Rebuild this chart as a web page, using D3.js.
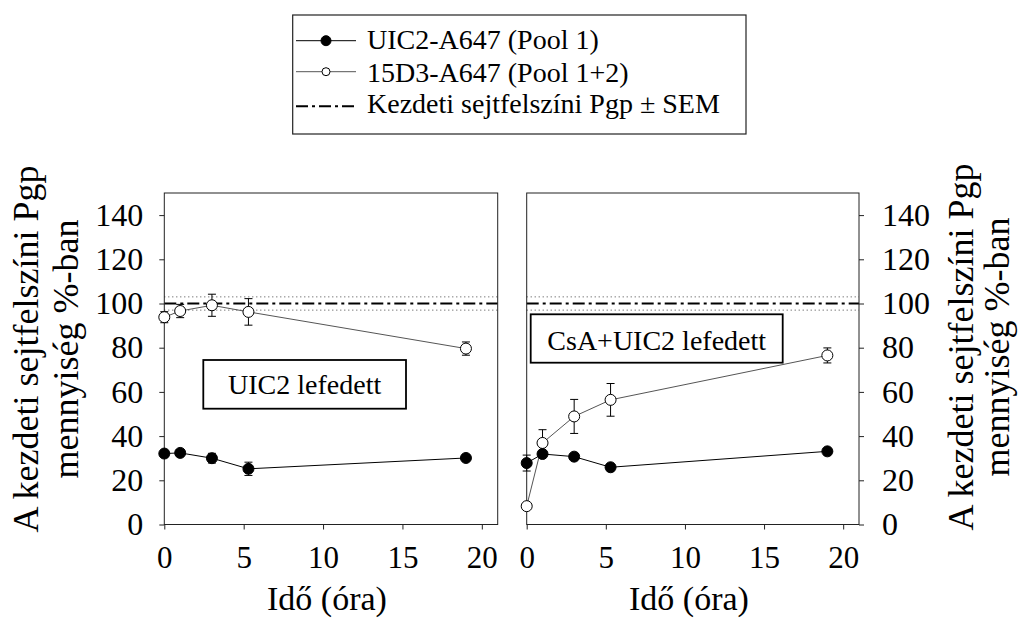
<!DOCTYPE html>
<html>
<head>
<meta charset="utf-8">
<script src="https://cdn.jsdelivr.net/npm/d3@7"></script>
<style>
  html, body { margin: 0; padding: 0; background: #fff; }
  svg { display: block; }
</style>
</head>
<body>
<svg id="chart" width="1019" height="630"></svg>
<script>
// ---- data ----
const times = [0, 1, 3, 5.3, 19];
const xTicks = [0, 5, 10, 15, 20];
const yTicks = [0, 20, 40, 60, 80, 100, 120, 140];

const uicPanel_UIC2 = [32.1, 32.4, 30.0, 25.2, 30.1];
const uicPanel_UIC2_err = [1.5, 1.5, 2.2, 3.0, 1.2];
const uicPanel_15D3 = [93.8, 96.6, 99.2, 96.2, 79.6];
const uicPanel_15D3_err = [2.5, 3.0, 5.0, 6.0, 3.0];

const csaPanel_UIC2 = [27.8, 31.9, 30.7, 25.9, 33.1];
const csaPanel_UIC2_err = [3.6, 1.2, 1.2, 1.0, 1.2];
const csaPanel_15D3 = [8.3, 36.9, 48.9, 56.4, 76.5];
const csaPanel_15D3_err = [1.0, 6.0, 7.7, 7.4, 3.4];

const baselineValue = 100;
const baselineSEM = 3;

const panelLabels = ["UIC2 lefedett", "CsA+UIC2 lefedett"];
const legendLabels = ["UIC2-A647 (Pool 1)", "15D3-A647 (Pool 1+2)", "Kezdeti sejtfelszíni Pgp \u00B1 SEM"];
const xTitle = "Idő (óra)";
const yTitleLines = ["A kezdeti sejtfelszíni Pgp", "mennyiség %-ban"];

const FONT = "'Liberation Serif', 'Times New Roman', Tinos, 'DejaVu Serif', serif";

// ---- layout ----
const svg = d3.select("#chart");
const plotTop = 193, plotBottom = 524.5;
const y = d3.scaleLinear().domain([0, 150]).range([plotBottom, plotTop]);

const panels = [
  { x0: 164.3, x1: 497.7, side: "left", filled: uicPanel_UIC2, filledErr: uicPanel_UIC2_err,
    open: uicPanel_15D3, openErr: uicPanel_15D3_err, label: panelLabels[0],
    box: [203.3, 360, 406, 408.7], textBase: 394, titleX: 327 },
  { x0: 526.7, x1: 859, side: "right", filled: csaPanel_UIC2, filledErr: csaPanel_UIC2_err,
    open: csaPanel_15D3, openErr: csaPanel_15D3_err, label: panelLabels[1],
    box: [530.7, 314.3, 782.7, 362.7], textBase: 350, titleX: 689 }
];

const dashDot = "12,4,3,4";

panels.forEach(p => {
  const x = d3.scaleLinear().domain([0, 21]).range([p.x0, p.x1]);
  const g = svg.append("g");

  // baseline ± SEM
  g.append("line").attr("x1", x(0)).attr("x2", x(21))
    .attr("y1", y(baselineValue + baselineSEM)).attr("y2", y(baselineValue + baselineSEM))
    .attr("stroke", "#444").attr("stroke-width", 1).attr("stroke-dasharray", "1,3");
  g.append("line").attr("x1", x(0)).attr("x2", x(21))
    .attr("y1", y(baselineValue - baselineSEM)).attr("y2", y(baselineValue - baselineSEM))
    .attr("stroke", "#444").attr("stroke-width", 1).attr("stroke-dasharray", "1,3");
  g.append("line").attr("x1", x(0)).attr("x2", x(21))
    .attr("y1", y(baselineValue)).attr("y2", y(baselineValue))
    .attr("stroke", "#000").attr("stroke-width", 2).attr("stroke-dasharray", dashDot);

  // frame
  g.append("rect").attr("x", p.x0).attr("y", plotTop)
    .attr("width", p.x1 - p.x0).attr("height", plotBottom - plotTop)
    .attr("fill", "none").attr("stroke", "#222").attr("stroke-width", 1);

  // axes
  const xAxis = d3.axisBottom(x).tickValues(xTicks).tickFormat(d3.format("d"))
    .tickSizeInner(5).tickSizeOuter(0).tickPadding(16);
  const gx = svg.append("g").attr("transform", `translate(0,${plotBottom})`).call(xAxis)
    .attr("font-family", FONT).attr("font-size", 31);
  gx.select(".domain").remove();
  gx.selectAll("line").attr("stroke", "#222");
  gx.selectAll("text").attr("fill", "#000");

  let yAxis, gy;
  if (p.side === "left") {
    yAxis = d3.axisLeft(y).tickValues(yTicks).tickFormat(d3.format("d"))
      .tickSizeInner(5).tickSizeOuter(0).tickPadding(16);
    gy = svg.append("g").attr("transform", `translate(${p.x0},0)`).call(yAxis);
  } else {
    yAxis = d3.axisRight(y).tickValues(yTicks).tickFormat(d3.format("d"))
      .tickSizeInner(5).tickSizeOuter(0).tickPadding(18);
    gy = svg.append("g").attr("transform", `translate(${p.x1},0)`).call(yAxis);
  }
  gy.attr("font-family", FONT).attr("font-size", 32);
  gy.select(".domain").remove();
  gy.selectAll("line").attr("stroke", "#222");
  gy.selectAll("text").attr("fill", "#000");

  // x title
  svg.append("text").attr("x", p.titleX).attr("y", 610)
    .attr("font-family", FONT).attr("font-size", 34)
    .attr("text-anchor", "middle").text(xTitle);

  const line = d3.line().x((d, i) => x(times[i])).y(d => y(d));
  const drawSeries = (vals, errs, filled) => {
    const sg = g.append("g");
    sg.append("path").datum(vals).attr("d", line).attr("fill", "none")
      .attr("stroke", filled ? "#000" : "#555").attr("stroke-width", 1);
    vals.forEach((v, i) => {
      const cx = x(times[i]);
      const e = errs[i];
      sg.append("line").attr("x1", cx).attr("x2", cx).attr("y1", y(v - e)).attr("y2", y(v + e))
        .attr("stroke", "#000").attr("stroke-width", 1);
      [v - e, v + e].forEach(ev => {
        sg.append("line").attr("x1", cx - 4).attr("x2", cx + 4).attr("y1", y(ev)).attr("y2", y(ev))
          .attr("stroke", "#000").attr("stroke-width", 1);
      });
    });
    sg.selectAll("circle").data(vals).enter().append("circle")
      .attr("cx", (d, i) => x(times[i])).attr("cy", d => y(d)).attr("r", 5.5)
      .attr("fill", filled ? "#000" : "#fff").attr("stroke", "#000").attr("stroke-width", 1);
  };
  drawSeries(p.open, p.openErr, false);
  drawSeries(p.filled, p.filledErr, true);

  // label box
  const b = p.box;
  g.append("rect").attr("x", b[0]).attr("y", b[1]).attr("width", b[2] - b[0]).attr("height", b[3] - b[1])
    .attr("fill", "#fff").attr("stroke", "#000").attr("stroke-width", 1.8);
  g.append("text").attr("x", (b[0] + b[2]) / 2).attr("y", p.textBase)
    .attr("font-family", FONT).attr("font-size", 28)
    .attr("text-anchor", "middle").text(p.label);
});

// y titles
const yTitleSpecs = [
  { xs: [38, 78], cy: 349 },
  { xs: [973, 1009], cy: 347 }
];
yTitleSpecs.forEach(s => {
  yTitleLines.forEach((t, i) => {
    svg.append("text").attr("transform", `translate(${s.xs[i]},${s.cy}) rotate(-90)`)
      .attr("font-family", FONT).attr("font-size", 36)
      .attr("text-anchor", "middle").text(t);
  });
});

// legend
const lg = svg.append("g");
lg.append("rect").attr("x", 292.7).attr("y", 15).attr("width", 746 - 292.7).attr("height", 119)
  .attr("fill", "#fff").attr("stroke", "#222").attr("stroke-width", 1.2);
const legendRows = [
  { y: 40.7, base: 49, kind: "filled" },
  { y: 71.7, base: 81.7, kind: "open" },
  { y: 106.2, base: 113.3, kind: "dash" }
];
legendRows.forEach((r, i) => {
  if (r.kind === "dash") {
    lg.append("line").attr("x1", 296).attr("x2", 356).attr("y1", r.y).attr("y2", r.y)
      .attr("stroke", "#000").attr("stroke-width", 2).attr("stroke-dasharray", dashDot);
  } else {
    lg.append("line").attr("x1", 296).attr("x2", 356).attr("y1", r.y).attr("y2", r.y)
      .attr("stroke", r.kind === "filled" ? "#000" : "#555").attr("stroke-width", 1);
    lg.append("circle").attr("cx", 326).attr("cy", r.y).attr("r", r.kind === "filled" ? 5 : 4)
      .attr("fill", r.kind === "filled" ? "#000" : "#fff").attr("stroke", "#000").attr("stroke-width", 1);
  }
  lg.append("text").attr("x", 367).attr("y", r.base)
    .attr("font-family", FONT).attr("font-size", 28).text(legendLabels[i]);
});
</script>
</body>
</html>
